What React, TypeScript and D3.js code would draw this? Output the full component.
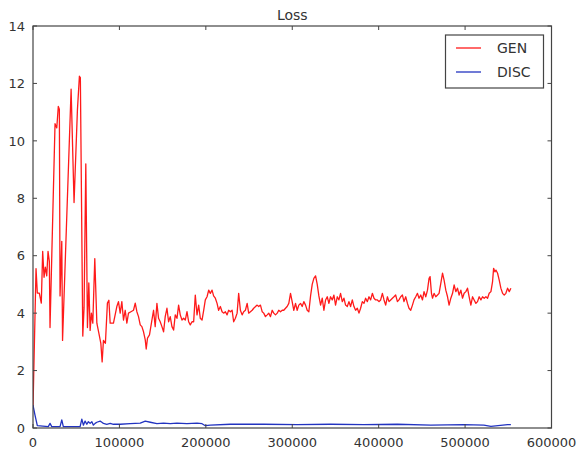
import React from "react";
import * as d3 from "d3";

// iterations (in thousands) and loss values
const genStepK = [
  0, 3.5, 5.0, 7.3, 9.6, 11.2, 12.8, 14.3, 15.9, 17.4, 18.9, 19.7, 25.5, 27.5, 29.3, 30.5, 31.3, 33.3, 34.2,
  44.1, 47.5, 51.4, 53.7, 54.8, 57.6, 59.1, 61.1, 63.0, 64.6, 66.1, 67.6, 69.2, 71.5, 73.9, 76.2, 78.5, 80.0,
  81.5, 83.8, 86.1, 87.8, 89.3, 93.1, 97.0, 98.9, 100.9, 102.8, 104.7, 106.7, 108.6, 110.5, 113.3, 116.3,
  118.3, 120.2, 122.1, 124.1, 126.0, 127.9, 129.9, 131.0, 132.5, 134.8, 137.6, 139.5, 141.4, 143.4, 145.3,
  147.2, 149.2, 151.1, 153.0, 155.0, 156.9, 158.8, 160.8, 162.7, 164.6, 166.6, 168.5, 170.4, 172.4, 174.3,
  176.2, 178.2, 180.1, 182.0, 184.0, 185.9, 187.8, 189.8, 191.7, 193.6, 195.6, 197.5, 199.4, 201.4, 203.3,
  205.2, 207.2, 209.0, 211.0, 213.0, 214.8, 216.8, 218.8, 220.6, 222.6, 224.6, 226.4, 228.4, 230.4, 232.2,
  234.2, 236.2, 238.0, 240.0, 242.0, 243.8, 245.8, 247.8, 249.6, 251.6, 253.6, 255.4, 259.4, 261.2, 263.2,
  265.2, 267.0, 269.0, 271.0, 272.8, 274.8, 276.8, 278.6, 280.6, 282.6, 284.4, 286.4, 288.4, 290.2, 292.2,
  294.1, 296.0, 298.0, 299.9, 301.8, 303.8, 305.7, 307.6, 309.6, 311.5, 313.4, 315.4, 317.3, 319.2, 321.2,
  323.1, 325.0, 327.0, 328.9, 330.8, 332.8, 334.7, 336.6, 338.6, 340.5, 342.4, 344.3, 346.3, 348.2, 350.1,
  352.1, 354.0, 355.9, 357.9, 359.8, 361.7, 363.7, 365.6, 367.5, 369.5, 371.4, 373.3, 375.3, 377.2, 379.1,
  381.1, 383.0, 384.9, 386.9, 388.8, 390.7, 392.7, 394.6, 396.5, 398.5, 400.4, 402.3, 404.3, 406.2, 408.1,
  410.1, 412.0, 413.9, 415.9, 417.7, 419.7, 421.7, 423.5, 425.5, 427.5, 429.3, 431.3, 433.3, 435.1, 437.1,
  439.1, 440.9, 442.9, 444.9, 446.7, 448.7, 450.7, 452.5, 454.5, 456.5, 458.3, 459.5, 461.1, 462.3, 464.1,
  466.1, 468.1, 469.9, 471.9, 473.9, 475.7, 477.7, 479.7, 481.5, 483.5, 485.5, 487.3, 489.3, 491.2, 493.1,
  495.1, 497.0, 498.9, 500.9, 502.8, 504.7, 506.7, 508.6, 510.5, 512.5, 514.4, 516.3, 518.3, 520.2, 522.1,
  524.1, 526.0, 527.9, 529.9, 531.8, 533.0, 534.5, 535.7, 537.6, 539.5, 541.4, 543.4, 545.3, 547.2, 549.2,
  551.1, 553.0,
];
const genLoss = [
  0.7, 5.55, 4.7, 4.7, 4.35, 6.15, 5.25, 5.6, 5.3, 6.15, 5.8, 3.5, 10.6, 10.45, 11.2, 11.1, 4.6, 6.5, 3.05,
  11.8, 7.85, 11.07, 12.25, 12.2, 3.2, 4.2, 9.2, 3.5, 5.05, 3.4, 4.0, 3.65, 5.9, 3.65, 3.3, 2.95, 2.3,
  3.05, 2.95, 4.35, 4.45, 3.65, 3.65, 4.23, 4.4, 4.0, 4.4, 3.76, 4.1, 3.65, 4.0, 4.05, 4.1,
  4.35, 4.05, 3.88, 3.59, 3.53, 3.35, 3.07, 2.75, 3.13, 3.24, 3.76, 4.1, 3.53, 4.34, 3.82,
  3.7, 3.53, 3.35, 3.88, 4.17, 3.7, 3.88, 3.53, 3.41, 3.94, 3.82, 4.28, 3.94, 3.76, 3.82,
  3.76, 4.05, 3.7, 3.59, 3.7, 3.7, 4.63, 3.94, 4.28, 3.82, 3.76, 4.1, 4.46, 4.57, 4.8,
  4.69, 4.8, 4.6, 4.52, 4.34, 4.1, 4.23, 4.05, 4.0, 4.05, 3.94, 4.1, 4.05, 4.1, 3.7,
  3.82, 4.0, 4.69, 4.1, 3.94, 4.05, 4.1, 4.34, 4.0, 4.05, 4.1, 4.17, 4.28, 4.23, 4.28,
  4.05, 4.0, 3.88, 3.94, 4.0, 3.88, 4.1, 4.0, 3.94, 4.0, 4.1, 4.05, 4.1, 4.1, 4.17,
  4.23, 4.34, 4.69, 4.4, 4.1, 4.34, 4.1, 4.28, 4.34, 4.23, 4.4, 4.28, 4.1, 4.05, 4.6,
  5.0, 5.21, 5.3, 5.0, 4.6, 4.28, 4.52, 4.1, 4.46, 4.57, 4.34, 4.57, 4.46, 4.63, 4.28,
  4.57, 4.46, 4.69, 4.4, 4.52, 4.28, 4.23, 4.4, 4.23, 4.46, 4.23, 4.1, 4.17, 4.0, 4.17,
  4.4, 4.34, 4.52, 4.4, 4.57, 4.46, 4.69, 4.52, 4.46, 4.46, 4.4, 4.46, 4.69, 4.46, 4.28,
  4.57, 4.4, 4.46, 4.52, 4.57, 4.63, 4.4, 4.46, 4.57, 4.63, 4.4, 4.57, 4.34, 4.17, 4.1,
  4.28, 4.46, 4.57, 4.69, 4.52, 4.63, 4.46, 4.75, 4.57, 4.8, 5.21, 5.27, 4.69, 4.52, 4.69,
  4.57, 4.63, 4.69, 5.04, 5.39, 5.15, 4.8, 4.57, 4.28, 4.52, 4.69, 4.98, 4.75, 4.87, 4.63,
  4.8, 4.52, 4.69, 4.75, 4.87, 4.57, 4.28, 4.57, 4.46, 4.34, 4.4, 4.57, 4.46, 4.57, 4.52,
  4.57, 4.52, 4.69, 4.75, 5.1, 5.56, 5.44, 5.5, 5.39, 5.15, 4.87, 4.69, 4.63, 4.69, 4.87,
  4.75, 4.87,
];

const discStepK = [
  0, 2.3, 5.0, 17.7, 19.7, 21.7, 31.3, 33.3, 35.1, 54.5, 56.5, 58.3, 60.3, 62.3, 64.1, 66.1, 68.1, 69.9,
  71.9, 73.9, 77.7, 79.7, 81.5, 85.4, 89.3, 93.1, 100.9, 112.5, 124.1, 129.9, 135.7, 143.4, 151.1, 158.8,
  166.6, 178.2, 189.8, 195.6, 199.4, 205.2, 228.4, 267.0, 305.7, 344.3, 382.6, 421.7, 460.3, 498.6, 521.7,
  529.9, 549.2, 553.0,
];
const discLoss = [
  0.8, 0.45, 0.08, 0.05, 0.16, 0.05, 0.05, 0.28, 0.05, 0.05, 0.31, 0.1, 0.24, 0.13, 0.22, 0.16, 0.22, 0.1,
  0.16, 0.2, 0.24, 0.2, 0.16, 0.13, 0.16, 0.13, 0.13, 0.15, 0.17, 0.24, 0.2, 0.15, 0.17, 0.15,
  0.17, 0.15, 0.17, 0.15, 0.08, 0.1, 0.13, 0.13, 0.12, 0.13, 0.12, 0.13, 0.1, 0.12, 0.1,
  0.06, 0.12, 0.12,
];

const xTicksK = [0, 100, 200, 300, 400, 500, 600];
const xTickLabels = ["0", "100000", "200000", "300000", "400000", "500000", "600000"];
const yTicks = [0, 2, 4, 6, 8, 10, 12, 14];
const seriesNames = ["GEN", "DISC"];
const seriesColors = ["#ff1a1a", "#2233c0"];
const title = "Loss";

const W = 581;
const H = 452;
const M = { left: 33, right: 551.5, top: 26, bottom: 428 };
const FONT = "'DejaVu Sans', sans-serif";
const TXT = "#333";

export default function App() {
  const x = d3.scaleLinear().domain([0, 600]).range([M.left, M.right]);
  const y = d3.scaleLinear().domain([0, 14]).range([M.bottom, M.top]);
  const line = d3
    .line<[number, number]>()
    .x((d) => x(d[0]))
    .y((d) => y(d[1]));
  const genPts = genStepK.map((k, i) => [k, genLoss[i]] as [number, number]);
  const discPts = discStepK.map((k, i) => [k, discLoss[i]] as [number, number]);
  const tl = 4;
  const axisColor = "#444";

  return (
    <svg
      width={W}
      height={H}
      style={{ position: "absolute", left: 0, top: 0, background: "#fff" }}
    >
      <rect x={0} y={0} width={W} height={H} fill="#fff" />
      <text x={(M.left + M.right) / 2} y={20} textAnchor="middle" fontFamily={FONT} fontSize={14} fill={TXT}>
        {title}
      </text>
      <clipPath id="plotclip">
        <rect x={M.left} y={M.top} width={M.right - M.left} height={M.bottom - M.top} />
      </clipPath>
      <g clipPath="url(#plotclip)">
        <path d={line(genPts) || ""} fill="none" stroke={seriesColors[0]} strokeWidth={1.3} strokeLinejoin="round" />
        <path d={line(discPts) || ""} fill="none" stroke={seriesColors[1]} strokeWidth={1.3} strokeLinejoin="round" />
      </g>
      {/* ticks */}
      {xTicksK.map((t, i) => (
        <g key={"xt" + i}>
          <line x1={x(t)} x2={x(t)} y1={M.bottom} y2={M.bottom - tl} stroke={axisColor} />
          <line x1={x(t)} x2={x(t)} y1={M.top} y2={M.top + tl} stroke={axisColor} />
          <text x={x(t)} y={447} textAnchor="middle" fontFamily={FONT} fontSize={13} fill={TXT}>
            {xTickLabels[i]}
          </text>
        </g>
      ))}
      {yTicks.map((t) => (
        <g key={"yt" + t}>
          <line x1={M.left} x2={M.left + tl} y1={y(t)} y2={y(t)} stroke={axisColor} />
          <line x1={M.right} x2={M.right - tl} y1={y(t)} y2={y(t)} stroke={axisColor} />
          <text x={25} y={y(t) + 4.7} textAnchor="end" fontFamily={FONT} fontSize={13} fill={TXT}>
            {t}
          </text>
        </g>
      ))}
      <rect
        x={M.left}
        y={M.top}
        width={M.right - M.left}
        height={M.bottom - M.top}
        fill="none"
        stroke={axisColor}
        strokeWidth={1.2}
      />
      {/* legend */}
      <g>
        <rect x={445.5} y={35} width={98} height={53} fill="#fff" stroke={axisColor} strokeWidth={1.2} />
        {seriesNames.map((n, i) => (
          <g key={n}>
            <line x1={456} x2={481} y1={48 + i * 24} y2={48 + i * 24} stroke={seriesColors[i]} strokeWidth={1.3} />
            <text x={497} y={53 + i * 24} fontFamily={FONT} fontSize={14} fill={TXT}>
              {n}
            </text>
          </g>
        ))}
      </g>
    </svg>
  );
}
